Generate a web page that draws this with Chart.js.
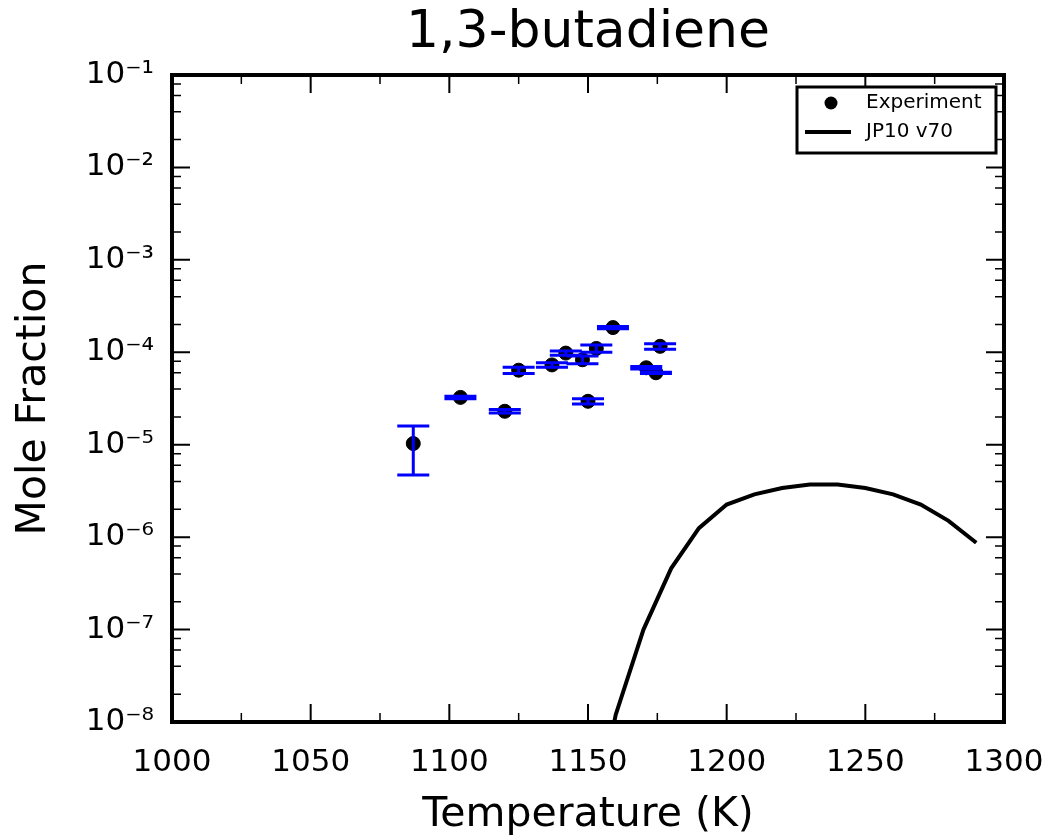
<!DOCTYPE html>
<html>
<head>
<meta charset="utf-8">
<script src="https://cdn.jsdelivr.net/npm/chart.js@4"></script>
<style>
  html, body { margin: 0; padding: 0; background: #fff; }
  #wrap { width: 1053px; height: 837px; }
</style>
</head>
<body>
<div id="wrap"><canvas id="myChart"></canvas></div>
<script>
// experiment points (temperature K, mole fraction, +/- error)
const expT = [1087, 1104, 1120, 1125, 1137, 1142, 1148, 1150, 1153, 1159, 1171, 1174.5, 1176];
const expX = [1.03e-5, 3.25e-5, 2.3e-5, 6.4e-5, 7.3e-5, 9.8e-5, 8.3e-5, 2.95e-5, 1.1e-4, 1.85e-4, 6.8e-5, 6.0e-5, 1.16e-4];
const expErr = [5.6e-6, 1e-6, 1e-6, 5e-6, 4e-6, 5e-6, 8e-6, 2e-6, 1e-5, 5e-6, 2e-6, 1e-6, 8e-6];

// model JP10 v70
const modelT = [1150, 1160, 1170, 1180, 1190, 1200, 1210, 1220, 1230, 1240, 1250, 1260, 1270, 1280, 1290];
const modelX = [4e-10, 1.2e-8, 1.0e-7, 4.6e-7, 1.25e-6, 2.25e-6, 2.9e-6, 3.4e-6, 3.7e-6, 3.7e-6, 3.4e-6, 2.9e-6, 2.25e-6, 1.5e-6, 8.7e-7];

const xTicks = [1000, 1050, 1100, 1150, 1200, 1250, 1300];
const xMinor = [1025, 1075, 1125, 1175, 1225, 1275];
const yTicks = [1e-8, 1e-7, 1e-6, 1e-5, 1e-4, 1e-3, 1e-2, 1e-1];
const yTickLabels = ["10⁻⁸", "10⁻⁷", "10⁻⁶", "10⁻⁵", "10⁻⁴", "10⁻³", "10⁻²", "10⁻¹"];
const yMinorFactors = [2, 4, 6, 8];

const FONT = "'DejaVu Sans', sans-serif";

const errorBars = {
    id: "errorBars",
    afterDatasetsDraw(chart) {
        const ctx = chart.ctx;
        const xs = chart.scales.x, ys = chart.scales.y;
        ctx.save();
        ctx.strokeStyle = "#0000ff";
        ctx.lineWidth = 3;
        expT.forEach((t, i) => {
            const px = xs.getPixelForValue(t);
            const top = ys.getPixelForValue(expX[i] + expErr[i]);
            const bot = ys.getPixelForValue(expX[i] - expErr[i]);
            ctx.beginPath();
            ctx.moveTo(px, top); ctx.lineTo(px, bot);
            ctx.moveTo(px - 16, top); ctx.lineTo(px + 16, top);
            ctx.moveTo(px - 16, bot); ctx.lineTo(px + 16, bot);
            ctx.stroke();
        });
        ctx.restore();
    }
};

const frame = {
    id: "frame",
    afterDraw(chart) {
        const ctx = chart.ctx;
        const a = chart.chartArea;
        const xs = chart.scales.x, ys = chart.scales.y;
        ctx.save();
        ctx.strokeStyle = "#000";
        function tickX(v, len, w) {
            const p = xs.getPixelForValue(v);
            ctx.lineWidth = w;
            ctx.beginPath();
            ctx.moveTo(p, a.bottom); ctx.lineTo(p, a.bottom - len);
            ctx.moveTo(p, a.top); ctx.lineTo(p, a.top + len);
            ctx.stroke();
        }
        function tickY(v, len, w) {
            const p = ys.getPixelForValue(v);
            ctx.lineWidth = w;
            ctx.beginPath();
            ctx.moveTo(a.left, p); ctx.lineTo(a.left + len, p);
            ctx.moveTo(a.right, p); ctx.lineTo(a.right - len, p);
            ctx.stroke();
        }
        xTicks.forEach(v => tickX(v, 18, 2));
        xMinor.forEach(v => tickX(v, 9, 1.5));
        yTicks.forEach(v => tickY(v, 18, 2));
        yTicks.slice(0, -1).forEach(v => yMinorFactors.forEach(f => tickY(v * f, 9, 1.5)));
        ctx.lineWidth = 4;
        ctx.strokeRect(a.left, a.top, a.right - a.left, a.bottom - a.top);

        // legend
        const bx = 797, by = 87, bw = 199, bh = 66;
        ctx.fillStyle = "#fff";
        ctx.fillRect(bx, by, bw, bh);
        ctx.lineWidth = 3;
        ctx.strokeRect(bx, by, bw, bh);
        ctx.fillStyle = "#000";
        ctx.beginPath();
        ctx.arc(831, 103, 6.5, 0, Math.PI * 2);
        ctx.fill();
        ctx.lineWidth = 4;
        ctx.beginPath();
        ctx.moveTo(805, 132); ctx.lineTo(851, 132);
        ctx.stroke();
        ctx.font = "20px " + FONT;
        ctx.textBaseline = "middle";
        ctx.textAlign = "left";
        ctx.fillText(chart.data.datasets[0].label, 866, 103);
        ctx.fillText(chart.data.datasets[1].label, 866, 132);
        ctx.restore();
    }
};

const ctxChart = document.getElementById("myChart").getContext("2d");

const data = {
    datasets: [
        {
            label: "Experiment",
            type: "scatter",
            data: expT.map((t, i) => ({ x: t, y: expX[i] })),
            backgroundColor: "#000",
            borderColor: "#000",
            pointRadius: 7,
            pointHoverRadius: 7,
            showLine: false
        },
        {
            label: "JP10 v70",
            type: "line",
            data: modelT.map((t, i) => ({ x: t, y: modelX[i] })),
            borderColor: "#000",
            borderWidth: 4,
            pointRadius: 0,
            fill: false,
            tension: 0
        }
    ]
};

const config = {
    type: "scatter",
    data: data,
    plugins: [errorBars, frame],
    options: {
        responsive: true,
        maintainAspectRatio: false,
        animation: false,
        layout: { padding: { left: 0, right: 49, top: 0, bottom: 0 } },
        plugins: {
            legend: { display: false },
            tooltip: { enabled: false },
            title: {
                display: true,
                fullSize: false,
                text: "1,3-butadiene",
                color: "#000",
                font: { family: FONT, size: 52, weight: "normal" },
                padding: { top: 2, bottom: 10.6 }
            }
        },
        scales: {
            x: {
                type: "linear",
                min: 1000,
                max: 1300,
                afterBuildTicks: (scale) => { scale.ticks = xTicks.map(v => ({ value: v })); },
                afterFit: (scale) => {
                    scale.height = 115;
                    scale.paddingLeft = 0;
                    scale.paddingRight = 0;
                },
                grid: { display: false, drawTicks: false },
                border: { display: false },
                ticks: {
                    color: "#000",
                    padding: 22,
                    maxRotation: 0,
                    font: { family: FONT, size: 31 },
                    callback: (v) => String(v)
                },
                title: {
                    display: true,
                    text: "Temperature (K)",
                    color: "#000",
                    font: { family: FONT, size: 41 },
                    padding: { top: 0, bottom: -3 }
                }
            },
            y: {
                type: "logarithmic",
                min: 1e-8,
                max: 1e-1,
                afterBuildTicks: (scale) => { scale.ticks = yTicks.map(v => ({ value: v })); },
                afterFit: (scale) => { scale.width = 172; },
                grid: { display: false, drawTicks: false },
                border: { display: false },
                ticks: {
                    color: "#000",
                    padding: 18,
                    font: { family: FONT, size: 31 },
                    callback: (v) => yTickLabels[Math.round(Math.log10(v)) + 8]
                },
                title: {
                    display: true,
                    text: "Mole Fraction",
                    color: "#000",
                    font: { family: FONT, size: 41 },
                    padding: { top: 10, bottom: 0 }
                }
            }
        }
    }
};

const myChart = new Chart(ctxChart, config);
</script>
</body>
</html>
